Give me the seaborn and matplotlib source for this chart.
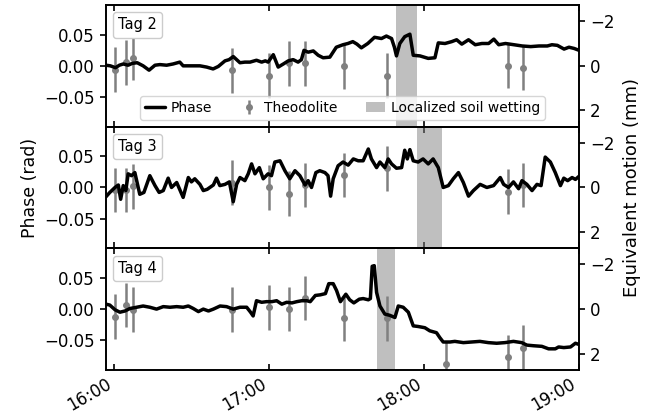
import numpy as np
import pandas as pd
import matplotlib
matplotlib.use("Agg")
import matplotlib.pyplot as plt
from matplotlib.offsetbox import AnchoredText
import seaborn as sns

# ---------------- data (minutes after 16:00) ----------------
tag_names = ["Tag 2", "Tag 3", "Tag 4"]
tick_minutes = [0, 60, 120, 180]
tick_labels = ["16:00", "17:00", "18:00", "19:00"]

tag2_t = [-3.2, -1.5, 0.5, 2.0, 3.5, 5.4, 7.0, 8.9, 11.2, 13.5, 15.8, 17.7, 20.3, 22.8, 25.4,
          26.7, 30.0, 33.2, 35.8, 38.3, 40.3, 42.9, 44.5, 46.1, 48.7, 50.6, 52.6, 55.1, 57.1,
          58.5, 59.6, 61.6, 63.5, 65.5, 67.4, 69.3, 71.2, 72.5, 73.5, 75.1, 77.1, 79.0, 80.9,
          83.5, 86.0, 88.6, 90.5, 92.4, 94.0, 95.7, 98.2, 100.8, 103.5, 105.4, 107.4, 108.5,
          109.3, 110.6, 112.5, 114.5, 115.8, 118.4, 121.6, 124.2, 125.5, 128.1, 130.7, 132.6,
          134.6, 137.2, 139.8, 142.4, 145.0, 147.0, 148.9, 151.5, 154.8, 158.0, 161.3, 164.5,
          167.7, 169.5, 171.6, 174.2, 176.1, 178.1, 180.0]
tag2_v = [0.001, 0.000, -0.003, 0.001, 0.003, 0.001, 0.004, 0.005, 0.000, -0.007, 0.001, 0.002,
          0.001, 0.003, 0.006, 0.000, 0.000, 0.000, -0.002, -0.005, -0.001, 0.008, 0.010, 0.015,
          0.005, 0.006, 0.006, 0.009, 0.006, 0.008, 0.006, 0.018, -0.002, 0.003, 0.008, 0.010,
          0.006, 0.010, 0.025, 0.022, 0.024, 0.017, 0.013, 0.014, 0.030, 0.034, 0.036, 0.039,
          0.035, 0.029, 0.036, 0.046, 0.044, 0.048, 0.044, 0.030, 0.016, 0.036, 0.047, 0.051,
          0.017, 0.016, 0.012, 0.013, 0.037, 0.036, 0.039, 0.042, 0.035, 0.042, 0.034, 0.036,
          0.036, 0.043, 0.034, 0.036, 0.034, 0.032, 0.031, 0.032, 0.032, 0.034, 0.033, 0.027,
          0.030, 0.028, 0.025]

tag3_t = [-3.2, -1.7, 0.3, 1.6, 2.5, 3.5, 4.5, 5.4, 6.7, 8.0, 9.9, 11.5, 13.8, 15.8, 17.4, 19.0,
          20.9, 22.2, 24.2, 26.7, 28.7, 29.9, 31.2, 33.2, 34.5, 36.0, 38.4, 39.6, 40.9, 42.9,
          44.6, 46.1, 47.4, 48.7, 50.6, 51.9, 53.2, 54.5, 56.2, 57.7, 59.6, 60.9, 62.2, 64.2,
          66.1, 68.0, 70.0, 71.9, 73.9, 75.1, 76.4, 78.1, 79.6, 81.6, 82.8, 83.8, 84.8, 86.7,
          88.6, 90.6, 92.6, 94.5, 96.4, 98.4, 99.6, 101.6, 102.9, 104.8, 106.1, 107.4, 109.3,
          111.3, 112.5, 113.5, 114.5, 115.8, 117.7, 119.6, 121.6, 123.5, 125.5, 127.4, 129.4,
          131.3, 133.3, 135.2, 137.2, 139.1, 141.7, 144.3, 146.9, 149.5, 150.8, 152.7, 154.6,
          156.6, 157.9, 159.8, 161.8, 163.7, 165.3, 166.9, 168.9, 170.8, 172.8, 174.1, 175.6,
          177.3, 178.6, 180.0]
tag3_v = [-0.015, -0.008, 0.000, 0.004, -0.019, 0.003, -0.005, 0.022, 0.019, 0.024, -0.011,
          -0.008, 0.019, 0.003, -0.008, -0.005, 0.015, 0.000, 0.008, -0.016, 0.016, 0.009, 0.014,
          0.005, -0.005, -0.003, 0.004, 0.015, 0.003, 0.005, 0.009, -0.023, 0.005, 0.016, 0.011,
          0.022, 0.038, 0.022, 0.032, 0.014, 0.022, 0.019, 0.041, 0.043, 0.027, 0.014, 0.027,
          0.019, 0.004, 0.011, 0.000, 0.024, 0.027, 0.024, 0.019, -0.014, 0.014, 0.035, 0.041,
          0.036, 0.046, 0.043, 0.043, 0.062, 0.046, 0.032, 0.041, 0.032, 0.046, 0.038, 0.031,
          0.032, 0.060, 0.046, 0.061, 0.043, 0.041, 0.046, 0.038, 0.046, 0.032, 0.000, 0.003,
          0.014, 0.024, 0.008, -0.014, -0.005, 0.005, 0.000, 0.003, 0.016, 0.005, 0.000, 0.009,
          -0.002, 0.011, 0.005, -0.005, 0.005, 0.003, 0.049, 0.041, 0.024, 0.003, 0.015, 0.011,
          0.016, 0.013, 0.018]

tag4_t = [-3.2, -1.7, 0.3, 2.2, 4.2, 6.1, 8.7, 11.2, 13.8, 16.4, 19.0, 21.6, 24.2, 26.7, 28.7,
          30.6, 32.6, 34.5, 36.5, 38.4, 41.0, 43.5, 46.1, 48.7, 51.3, 52.8, 53.8, 55.1, 57.1,
          59.0, 61.0, 62.9, 64.9, 66.8, 68.8, 70.7, 72.6, 74.6, 75.9, 77.9, 79.8, 81.8, 83.1,
          84.8, 86.1, 87.6, 89.7, 91.2, 92.8, 94.9, 96.4, 98.4, 99.2, 99.9, 100.7, 101.6, 102.9,
          104.8, 106.7, 108.7, 110.0, 111.9, 113.9, 115.8, 117.7, 120.3, 122.2, 124.8, 126.1,
          127.4, 130.0, 131.9, 135.2, 138.4, 141.6, 144.9, 148.1, 151.3, 154.6, 157.8, 159.8,
          162.3, 165.6, 168.2, 170.8, 172.1, 174.1, 176.7, 178.6, 180.0]
tag4_v = [0.008, 0.0065, -0.001, -0.005, -0.003, 0.001, 0.003, 0.005, 0.003, 0.000, 0.004,
          0.003, 0.004, 0.003, 0.005, 0.001, -0.004, 0.000, -0.003, 0.000, 0.005, 0.004, 0.000,
          0.003, 0.003, -0.005, -0.011, 0.0135, 0.011, 0.012, 0.012, 0.0135, 0.008, 0.011, 0.010,
          0.012, 0.0135, 0.0135, 0.012, 0.022, 0.023, 0.025, 0.041, 0.041, 0.030, 0.012, 0.024,
          0.015, 0.010, 0.016, 0.017, 0.015, 0.017, 0.069, 0.070, 0.027, 0.005, -0.008, -0.010,
          -0.0135, 0.005, 0.003, -0.005, -0.027, -0.028, -0.030, -0.035, -0.038, -0.046, -0.053,
          -0.053, -0.052, -0.054, -0.053, -0.052, -0.054, -0.055, -0.054, -0.052, -0.054, -0.058,
          -0.059, -0.060, -0.064, -0.064, -0.061, -0.062, -0.061, -0.055, -0.057]

theo_t = [0.3, 4.4, 7.4, 45.7, 59.8, 67.5, 73.9, 88.9, 105.7, 128.3, 152.5, 158.3]
theo_tag2 = [-0.006, 0.0055, 0.013, -0.007, -0.016, 0.004, 0.004, -0.001, -0.016, np.nan, 0.0, -0.003]
theo_tag3 = [-0.004, -0.004, 0.002, 0.008, 0.0, -0.010, 0.004, 0.020, 0.031, np.nan, -0.0065, 0.004]
theo_tag4 = [-0.012, 0.0065, -0.001, -0.001, 0.0027, 0.0, 0.018, -0.015, -0.015, -0.088, -0.077, -0.062]
theo_err = 0.036

wet_start = [109.0, 117.3, 101.8]
wet_end = [117.3, 127.1, 108.9]

rad_to_mm = 27.8
phase_lim = 0.098

# ---------------- plotting ----------------
sns.set_style("ticks")
plt.rcParams["font.family"] = ["DejaVu Sans"]
plt.rcParams["axes.linewidth"] = 1.2
plt.rcParams["font.size"] = 10
for key in ["text.color", "axes.labelcolor", "xtick.color", "ytick.color", "axes.edgecolor"]:
    plt.rcParams[key] = "black"

fig, axes = plt.subplots(3, 1, sharex=True, figsize=(6.58, 4.18), dpi=100)
fig.subplots_adjust(left=0.161, right=0.880, top=0.988, bottom=0.115, hspace=0)

series = [(tag2_t, tag2_v, theo_tag2), (tag3_t, tag3_v, theo_tag3), (tag4_t, tag4_v, theo_tag4)]

for i, ax in enumerate(axes):
    t, v, th = series[i]
    ax.errorbar(theo_t, th, yerr=theo_err, fmt="o", color="gray", ms=4,
                elinewidth=1.8, capsize=0, label="Theodolite", zorder=2)
    ax.axvspan(wet_start[i], wet_end[i], color="gray", alpha=0.5, lw=0,
               label="Localized soil wetting", zorder=1)
    df = pd.DataFrame({"t": t, "phase": v})
    sns.lineplot(data=df, x="t", y="phase", ax=ax, color="black", lw=2.5,
                 sort=False, estimator=None, label="Phase", zorder=3)
    ax.set_xlim(-3.2, 180)
    ax.set_ylim(-phase_lim, phase_lim)
    ax.set_yticks([-0.05, 0.0, 0.05])
    ax.set_xlabel("")
    ax.set_ylabel("")
    ax.tick_params(axis="x", direction="in", top=True, bottom=True, length=4, width=1.2,
                   labelsize=12)
    ax.tick_params(axis="y", direction="out", length=4.5, width=1.2, labelsize=12)

    at = AnchoredText(tag_names[i], loc="upper left", prop=dict(size=10.5), frameon=True,
                      pad=0.35, borderpad=0.5)
    at.patch.set_boxstyle("round,pad=0.,rounding_size=0.2")
    at.patch.set_edgecolor("0.8")
    at.patch.set_facecolor("white")
    ax.add_artist(at)

    ax2 = ax.twinx()
    ax2.set_ylim(phase_lim * rad_to_mm, -phase_lim * rad_to_mm)
    ax2.set_yticks([-2, 0, 2])
    ax2.tick_params(axis="y", direction="out", length=4.5, width=1.2, labelsize=12)
    if i == 1:
        ax2.set_ylabel("Equivalent motion (mm)", fontsize=13, labelpad=6)

    if i == 0:
        handles, labels = ax.get_legend_handles_labels()
        hl = dict(zip(labels, handles))
        order = ["Phase", "Theodolite", "Localized soil wetting"]
        ax.legend([hl[k] for k in order], order, loc="lower center", ncol=3, fontsize=10,
                  handlelength=1.4, handletextpad=0.4, borderpad=0.35, columnspacing=2.0)
    else:
        leg = ax.get_legend()
        if leg is not None:
            leg.remove()

axes[1].set_ylabel("Phase (rad)", fontsize=12.5)
axes[-1].set_xticks(tick_minutes)
axes[-1].set_xticklabels(tick_labels, rotation=30, ha="right")

fig.savefig("out.png", dpi=100)
